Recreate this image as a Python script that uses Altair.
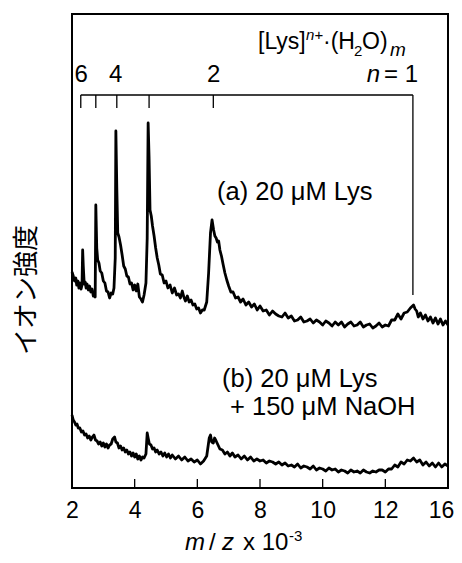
import altair as alt
import pandas as pd

# ---- spectrum (a) 20 uM Lys : m/z x 10^-3 and intensity (arb. units)
mz_a = [2.00, 2.04, 2.08, 2.12, 2.15, 2.19, 2.22, 2.26,
        2.29, 2.32, 2.34, 2.36, 2.39, 2.42, 2.45, 2.48,
        2.52, 2.56, 2.60, 2.64, 2.68, 2.72, 2.74, 2.76,
        2.79, 2.82, 2.86, 2.90, 2.95, 3.00, 3.05, 3.10,
        3.15, 3.20, 3.25, 3.30, 3.34, 3.38, 3.40, 3.43,
        3.46, 3.50, 3.55, 3.60, 3.65, 3.70, 3.75, 3.80,
        3.85, 3.90, 3.95, 4.00, 4.05, 4.10, 4.15, 4.20,
        4.25, 4.30, 4.36, 4.40, 4.43, 4.46, 4.49, 4.53,
        4.57, 4.62, 4.67, 4.72, 4.77, 4.82, 4.88, 4.94,
        5.00, 5.06, 5.13, 5.20, 5.27, 5.34, 5.40, 5.46,
        5.52, 5.57, 5.62, 5.68, 5.74, 5.80, 5.86, 5.92,
        5.98, 6.04, 6.10, 6.16, 6.22, 6.30, 6.36, 6.42,
        6.47, 6.52, 6.56, 6.60, 6.64, 6.68, 6.72, 6.77,
        6.82, 6.88, 6.94, 7.00, 7.07, 7.14, 7.22, 7.30,
        7.38, 7.46, 7.55, 7.64, 7.73, 7.82, 7.91, 8.00,
        8.10, 8.20, 8.30, 8.40, 8.50, 8.60, 8.70, 8.80,
        8.90, 9.00, 9.10, 9.20, 9.30, 9.40, 9.50, 9.60,
        9.70, 9.80, 9.90, 10.00, 10.10, 10.20, 10.30, 10.40,
        10.50, 10.60, 10.70, 10.80, 10.90, 11.00, 11.10, 11.20,
        11.30, 11.40, 11.50, 11.60, 11.70, 11.80, 11.90, 12.00,
        12.10, 12.20, 12.30, 12.40, 12.50, 12.60, 12.70, 12.80,
        12.90, 12.95, 13.00, 13.05, 13.12, 13.20, 13.28, 13.36,
        13.44, 13.52, 13.60, 13.68, 13.76, 13.84, 13.92, 14.00]
int_a = [216, 212, 207, 210, 203, 207, 200, 205,
         199, 203, 238, 222, 204, 206, 200, 204,
         198, 202, 196, 199, 192, 193, 191, 283,
         240, 228, 225, 217, 215, 207, 205, 197,
         196, 190, 195, 194, 200, 230, 357, 300,
         255, 251, 243, 233, 222, 219, 212, 211,
         204, 205, 198, 203, 197, 204, 191, 189,
         186, 193, 205, 250, 365, 330, 278, 272,
         262, 252, 240, 230, 223, 214, 213, 205,
         207, 200, 203, 195, 200, 193, 194, 190,
         197, 191, 187, 192, 186, 188, 183, 184,
         179, 180, 175, 178, 178, 186, 215, 255,
         268, 258, 252, 250, 246, 247, 238, 232,
         224, 215, 208, 202, 196, 196, 190, 191,
         186, 189, 183, 186, 181, 184, 178, 182,
         177, 178, 173, 177, 174, 172, 171, 175,
         170, 172, 167, 168, 171, 166, 167, 169,
         165, 168, 166, 163, 167, 165, 162, 166,
         163, 166, 161, 164, 166, 162, 163, 166,
         161, 163, 164, 160, 162, 165, 161, 163,
         162, 168, 168, 174, 169, 175, 176, 180,
         183, 179, 177, 171, 175, 169, 173, 167,
         171, 165, 170, 164, 169, 163, 167, 163]

# ---- spectrum (b) 20 uM Lys + 150 uM NaOH
mz_b = [2.00, 2.04, 2.08, 2.12, 2.16, 2.20, 2.25, 2.30,
        2.35, 2.40, 2.45, 2.50, 2.55, 2.60, 2.65, 2.70,
        2.75, 2.80, 2.85, 2.90, 2.95, 3.00, 3.05, 3.10,
        3.15, 3.20, 3.25, 3.30, 3.36, 3.40, 3.45, 3.50,
        3.55, 3.60, 3.65, 3.70, 3.75, 3.80, 3.85, 3.90,
        3.95, 4.00, 4.05, 4.10, 4.15, 4.20, 4.25, 4.30,
        4.36, 4.40, 4.43, 4.47, 4.52, 4.57, 4.62, 4.67,
        4.72, 4.78, 4.84, 4.90, 4.96, 5.02, 5.08, 5.14,
        5.20, 5.30, 5.40, 5.50, 5.60, 5.70, 5.80, 5.90,
        6.00, 6.10, 6.20, 6.30, 6.38, 6.42, 6.46, 6.51,
        6.55, 6.60, 6.66, 6.72, 6.80, 6.88, 6.96, 7.04,
        7.12, 7.20, 7.30, 7.40, 7.50, 7.60, 7.70, 7.80,
        7.90, 8.00, 8.10, 8.20, 8.30, 8.40, 8.50, 8.60,
        8.70, 8.80, 8.90, 9.00, 9.10, 9.20, 9.30, 9.40,
        9.50, 9.60, 9.70, 9.80, 9.90, 10.00, 10.10, 10.20,
        10.30, 10.40, 10.50, 10.60, 10.70, 10.80, 10.90, 11.00,
        11.10, 11.20, 11.30, 11.40, 11.50, 11.60, 11.70, 11.80,
        11.90, 12.00, 12.10, 12.20, 12.30, 12.40, 12.50, 12.60,
        12.70, 12.80, 12.90, 13.00, 13.10, 13.20, 13.30, 13.40,
        13.50, 13.60, 13.70, 13.80, 13.90, 14.00]
int_b = [73, 68, 66, 63, 64, 60, 60, 56,
         57, 53, 54, 50, 52, 48, 51, 53,
         48, 47, 44, 46, 42, 45, 41, 44,
         40, 43, 44, 49, 51, 46, 45, 40,
         42, 38, 40, 36, 38, 34, 36, 32,
         35, 31, 34, 29, 32, 28, 31, 30,
         34, 55, 50, 44, 43, 39, 40, 36,
         38, 34, 36, 32, 35, 31, 34, 30,
         33, 29, 32, 28, 31, 27, 29, 26,
         28, 24, 27, 32, 50, 53, 46, 45,
         50, 47, 43, 39, 38, 34, 36, 32,
         35, 31, 33, 29, 32, 28, 31, 27,
         29, 27, 28, 25, 27, 26, 24, 26,
         23, 25, 22, 23, 21, 24, 20, 22,
         21, 19, 22, 18, 20, 19, 17, 20,
         18, 19, 16, 18, 17, 15, 18, 16,
         17, 15, 18, 16, 15, 17, 16, 18,
         18, 16, 19, 19, 23, 21, 26, 24,
         28, 27, 30, 26, 28, 23, 26, 22,
         25, 21, 25, 21, 24, 22]

assert len(mz_a) == len(int_a) and len(mz_b) == len(int_b)

# ---- peak assignment bracket [Lys]n+ (H2O)m, n = 6 .. 1
peak_n = [6, 5, 4, 3, 2, 1]
peak_mz = [2.28, 2.76, 3.43, 4.46, 6.51, 12.88]
peak_tick_end = [380, 380, 380, 380, 380, 193]
bracket_level = 393
n_labels = ["6", "4", "2"]
n_label_mz = [2.29, 3.39, 6.52]

x_ticks = [2, 4, 6, 8, 10, 12, 14]
inner_tick_len = 9

FONT = "Liberation Sans"
xs = alt.Scale(domain=[2, 14], nice=False, zero=False)
ys = alt.Scale(domain=[0, 474], nice=False, zero=False)

spec = pd.DataFrame({"mz": mz_a + mz_b, "I": int_a + int_b,
                     "s": ["a"] * len(mz_a) + ["b"] * len(mz_b)})

lines = alt.Chart(spec).mark_line(color="black", strokeWidth=2.8, strokeJoin="round").encode(
    x=alt.X("mz:Q", scale=xs, title=None,
            axis=alt.Axis(values=x_ticks, labelExpr="datum.value == 14 ? '16' : datum.label",
                          labelOffset={"expr": "datum.value == 14 ? -7 : 0"},
                          domain=False, ticks=False, tickSize=0, labelPadding=11,
                          labelFontSize=23, labelFont=FONT, labelColor="black",
                          labelOverlap=False, labelBound=False, labelFlush=False, grid=False)),
    y=alt.Y("I:Q", scale=ys, axis=None),
    detail="s:N",
)

tick_df = pd.DataFrame({"x": x_ticks[1:-1], "y0": [0] * 5, "y1": [inner_tick_len] * 5})
inner_ticks = alt.Chart(tick_df).mark_rule(color="black", strokeWidth=1.3).encode(
    x=alt.X("x:Q", scale=xs), y=alt.Y("y0:Q", scale=ys), y2="y1:Q")

br_df = pd.DataFrame({"mz": peak_mz, "n": peak_n, "end": peak_tick_end,
                      "lvl": [bracket_level] * len(peak_mz)})
br_h = alt.Chart(pd.DataFrame({"a": [min(peak_mz)], "b": [max(peak_mz)],
                               "lvl": [bracket_level]})).mark_rule(
    color="black", strokeWidth=1.3).encode(
    x=alt.X("a:Q", scale=xs), x2="b:Q", y=alt.Y("lvl:Q", scale=ys))
br_v = alt.Chart(br_df).mark_rule(color="black", strokeWidth=1.3).encode(
    x=alt.X("mz:Q", scale=xs), y=alt.Y("lvl:Q", scale=ys), y2="end:Q")

nl = alt.Chart(pd.DataFrame({"x": n_label_mz, "t": n_labels, "y": [406] * 3})).mark_text(
    font=FONT, fontSize=24, align="center", baseline="alphabetic", color="black").encode(
    x=alt.X("x:Q", scale=xs), y=alt.Y("y:Q", scale=ys), text="t:N")


def txt(x, y, t, size=24, style="normal", align="left"):
    return alt.Chart(pd.DataFrame({"x": [x], "y": [y], "t": [t]})).mark_text(
        font=FONT, fontSize=size, fontStyle=style, align=align, baseline="alphabetic",
        color="black").encode(x=alt.X("x:Q", scale=xs), y=alt.Y("y:Q", scale=ys), text="t:N")


def px(p):
    return 2 + (p - 72) / (376 / 12)


annos = [
    txt(px(380), 406, "n", style="italic", align="right"),
    txt(px(418), 406, "= 1", align="right"),
    # [Lys]n+.(H2O)m
    txt(px(258), 439, "[Lys]", size=23),
    txt(px(306), 448, "n+", size=15, style="italic"),
    txt(px(323), 439, "\u00b7(H", size=23),
    txt(px(354), 432, "2", size=15),
    txt(px(362), 439, "O)", size=23),
    txt(px(390), 432, "m", size=19, style="italic"),
    # sample labels
    txt(px(217), 288, "(a) 20 \u03bcM Lys", size=25.5),
    txt(px(222), 101, "(b) 20 \u03bcM Lys", size=25.5),
    txt(px(230), 73, "+ 150 \u03bcM NaOH", size=25.5),
    # x title
    txt(px(185), -62, "m", style="italic"),
    txt(px(209), -62, "/"),
    txt(px(222), -62, "z", style="italic"),
    txt(px(243), -62, "x 10"),
    txt(px(289), -53, "-3", size=15),
]

ytitle = alt.Chart(pd.DataFrame({"x": [px(27)], "y": [198], "t": ["イオン強度"]})).mark_text(
    font="Noto Sans CJK JP", fontSize=26, angle=270, align="center", baseline="middle",
    color="black").encode(x=alt.X("x:Q", scale=xs), y=alt.Y("y:Q", scale=ys), text="t:N")

chart = alt.layer(lines, inner_ticks, br_h, br_v, nl, ytitle, *annos).properties(
    width=376, height=474,
    autosize=alt.AutoSizeParams(type="none"),
    padding={"left": 64, "top": 6, "right": 6, "bottom": 66},
).configure_view(stroke="black", strokeWidth=2)

chart.save("out.html", embed_options={"renderer": "svg", "actions": False})
